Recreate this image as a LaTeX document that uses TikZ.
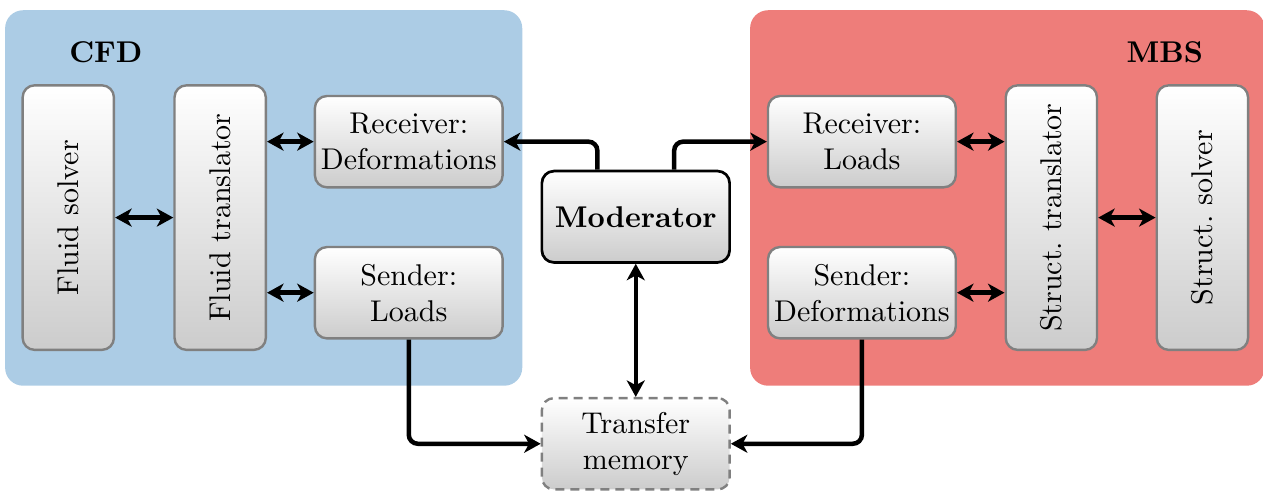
\documentclass[tikz,border=0pt]{standalone}
\usepackage{amsmath}
\usepackage{tikz}
\usetikzlibrary{arrows.meta}
\definecolor{cfdblue}{RGB}{172,204,229}
\definecolor{mbsred}{RGB}{238,125,122}

\begin{document}
\begin{tikzpicture}[
  hd/.tip={Stealth[length=5.5pt,width=6pt,inset=1.6pt]},
  box/.style={draw=gray,thick,rounded corners=4pt,top color=white,bottom color=gray!40,align=center,inner sep=2pt},
  hbox/.style={box,minimum width=2.2cm,minimum height=1.07cm},
  vbox/.style={box,minimum width=1.07cm,minimum height=3.1cm},
  link/.style={line width=1.5pt,rounded corners=3pt,-hd},
  both/.style={line width=1.5pt,hd-hd}]
\useasboundingbox (0,0) rectangle (14.80,-5.75);

%Backgrounds
\fill[cfdblue,rounded corners=6pt] (0.06,-0.12) rectangle (6.12,-4.52);
\fill[mbsred,rounded corners=6pt] (8.79,-0.12) rectangle (14.82,-4.52);
\node[font=\bfseries] (cfd) at (1.24,-0.61){CFD};
\node[font=\bfseries] (mbs) at (13.65,-0.61){MBS};

%CFD side
\node[vbox] (fs) at (0.80,-2.55){\rotatebox{90}{Fluid solver}};
\node[vbox] (ft) at (2.58,-2.55){\rotatebox{90}{Fluid translator}};
\node[hbox] (rd) at (4.79,-1.66){Receiver:\\Deformations};
\node[hbox] (sl) at (4.79,-3.43){Sender:\\Loads};

%Middle
\node[hbox,draw=black,line width=0.9pt,font=\bfseries] (mod) at (7.45,-2.54){Moderator};
\node[hbox,dash pattern=on 3pt off 2pt] (tm) at (7.45,-5.20){Transfer\\memory};

%MBS side
\node[hbox] (rl) at (10.10,-1.66){Receiver:\\Loads};
\node[hbox] (sd) at (10.10,-3.43){Sender:\\Deformations};
\node[vbox] (st) at (12.32,-2.55){\rotatebox{90}{Struct.\ translator}};
\node[vbox] (ss) at (14.09,-2.55){\rotatebox{90}{Struct.\ solver}};

\draw[both] (fs.east)--(ft.west); \draw[both] (ft.east |- rd.west)--(rd.west); \draw[both] (ft.east |- sl.west)--(sl.west);
\draw[both] (st.east)--(ss.west); \draw[both] (rl.east)--(rl.east -| st.west); \draw[both] (sd.east)--(sd.east -| st.west);

\draw[link] ([xshift=-0.45cm]mod.north) |- (rd.east); \draw[link] ([xshift=0.45cm]mod.north) |- (rl.west);
\draw[both] (mod.south)--(tm.north);
\draw[link] (sl.south) |- (tm.west); \draw[link] (sd.south) |- (tm.east);
\end{tikzpicture}
\end{document}
